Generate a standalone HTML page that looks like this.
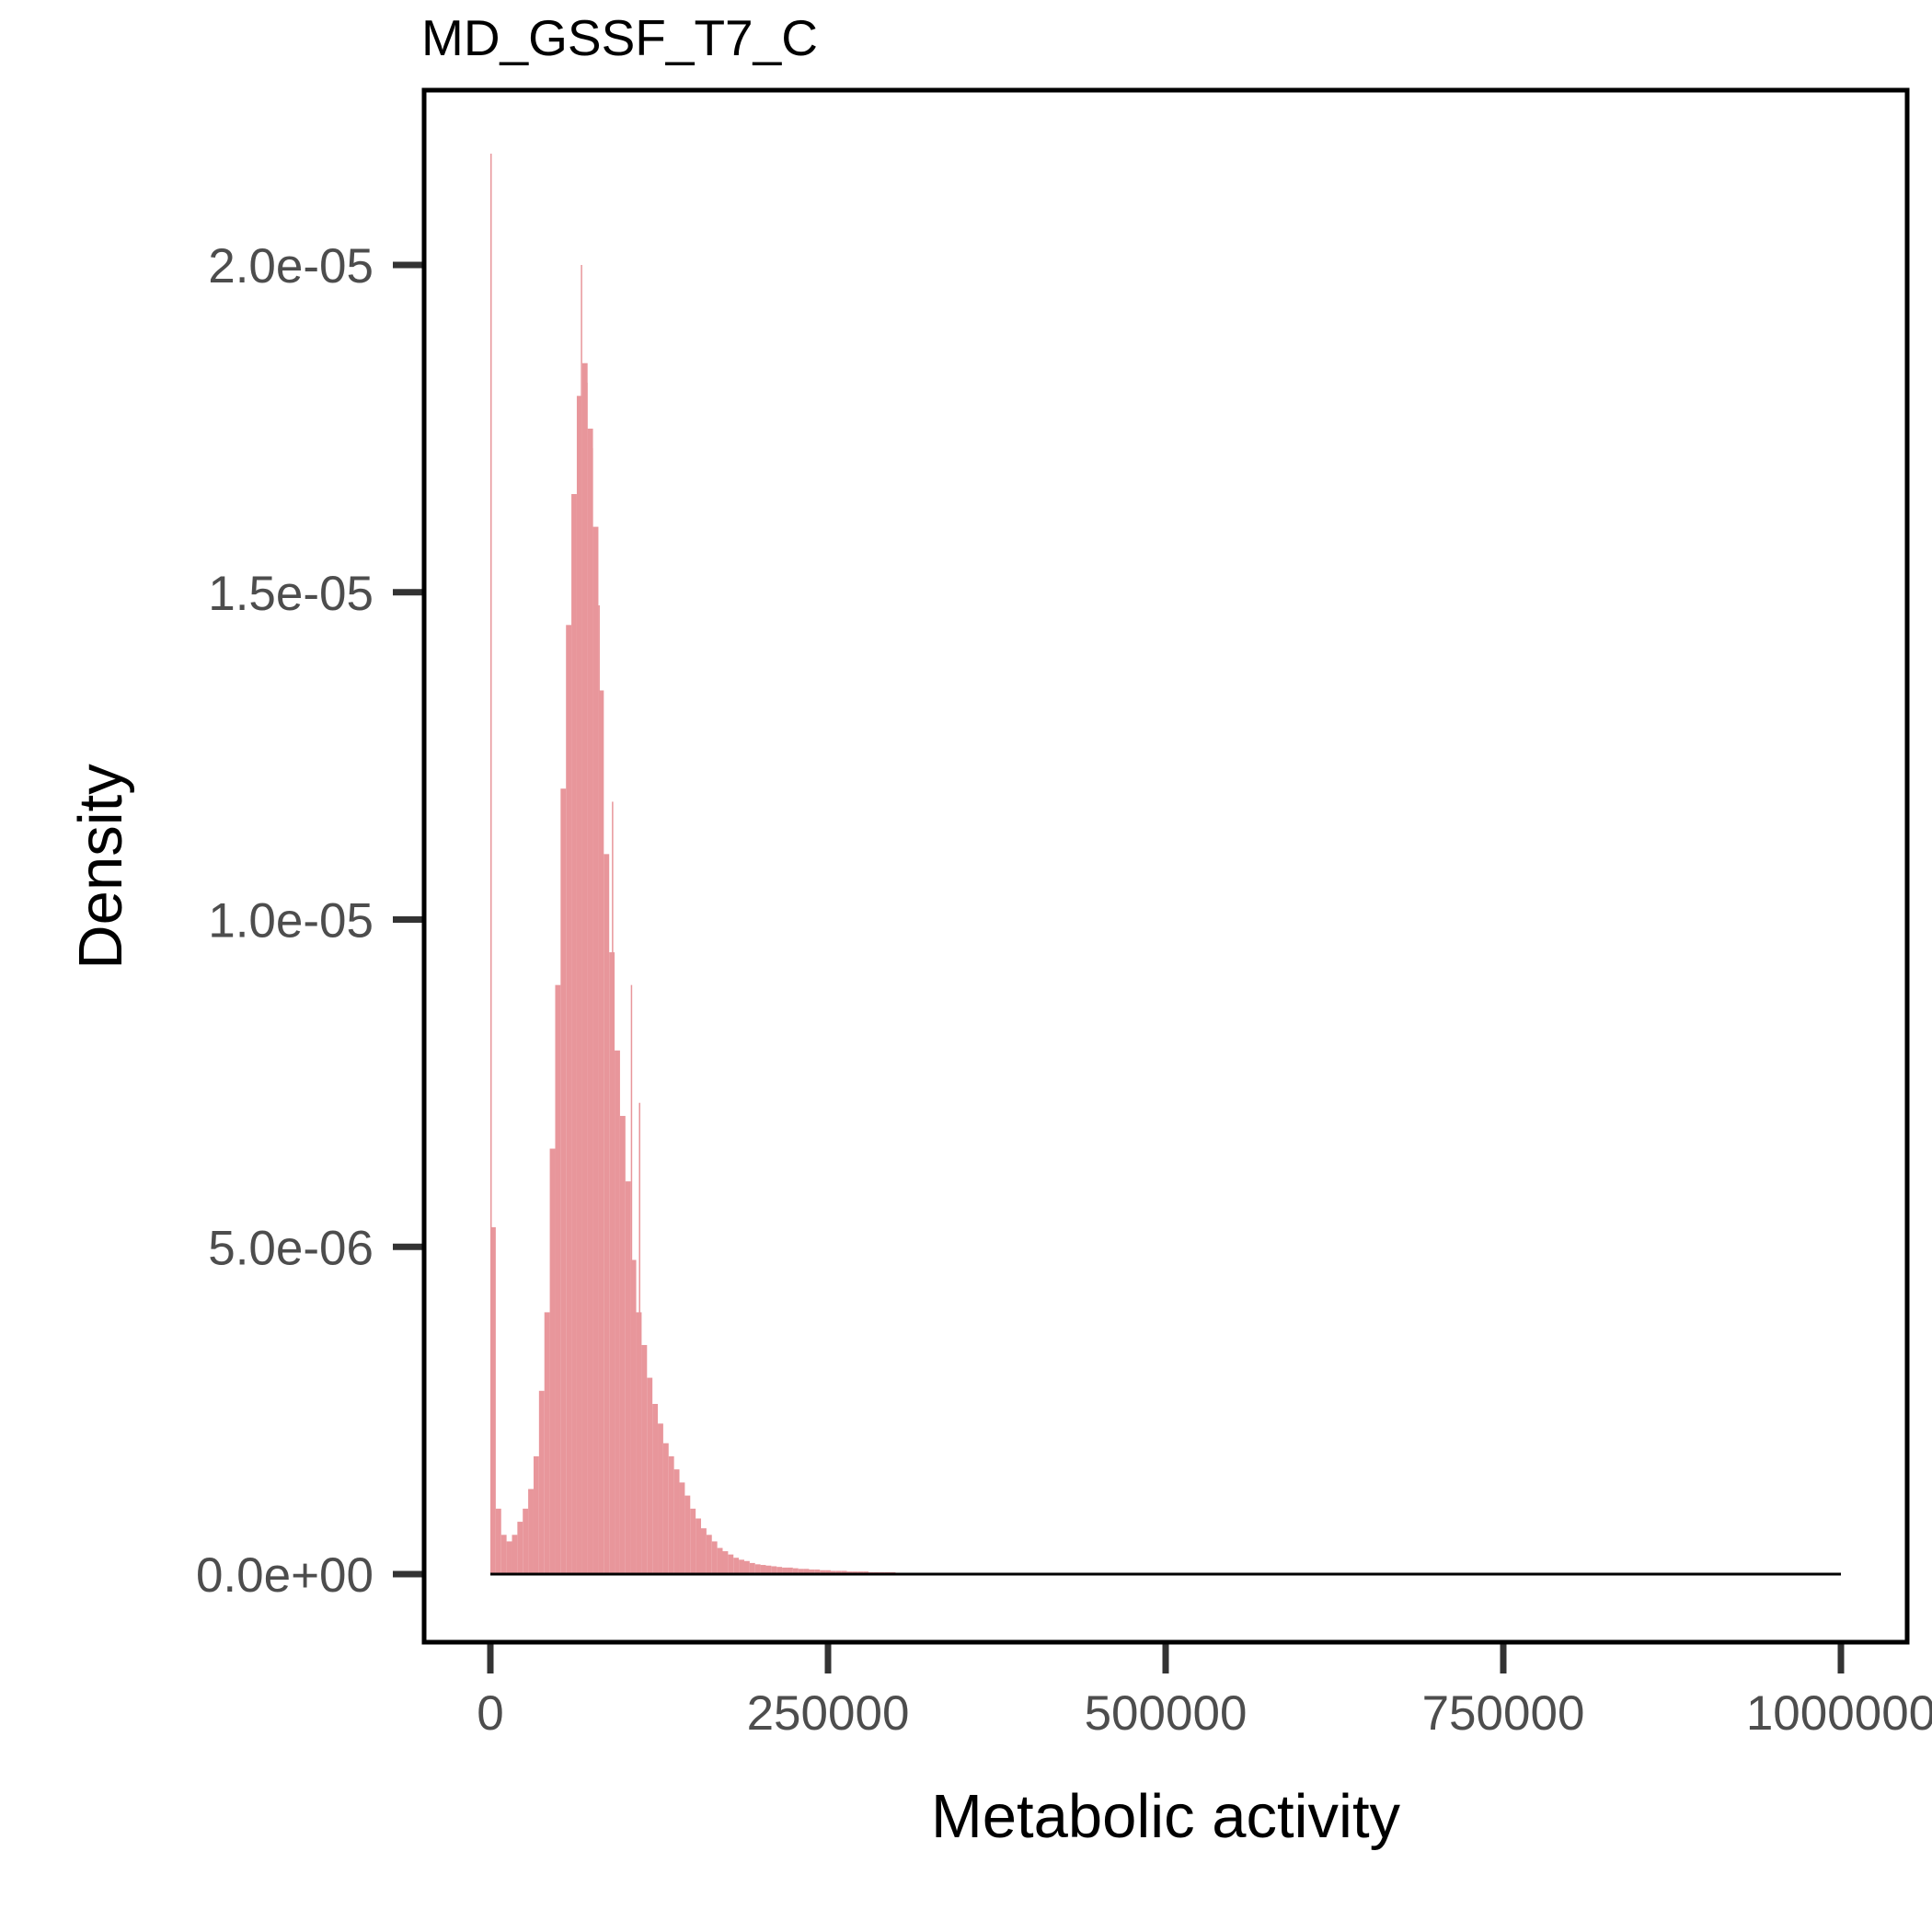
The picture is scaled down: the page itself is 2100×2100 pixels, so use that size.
<!DOCTYPE html>
<html><head><meta charset="utf-8">
<style>
html,body{margin:0;padding:0;background:#fff;}
svg{display:block;font-family:"Liberation Sans",Arial,sans-serif;}
</style></head>
<body>
<svg id="chart" width="2100" height="2100" viewBox="0 0 2100 2100">
<text x="458" y="60" font-size="55" fill="#000">MD_GSSF_T7_C</text>
<g id="bars"></g>
<g id="axes"></g>
<rect x="461" y="98" width="1612" height="1687" fill="none" stroke="#000" stroke-width="5"/>
<text x="1267" y="1997" font-size="67" text-anchor="middle" fill="#000">Metabolic activity</text>
<text transform="translate(132,942) rotate(-90)" font-size="67" text-anchor="middle" fill="#000">Density</text>
</svg>
<script>
const binWidth = 4000;
const binDensity = [5.3,1.0,0.6,0.5,0.6,0.8,1.0,1.3,1.8,2.8,4.0,6.5,9.0,12.0,14.5,16.5,18.0,18.5,17.5,16.0,13.5,11.0,9.5,8.0,7.0,6.0,4.8,4.0,3.5,3.0,2.6,2.3,2.0,1.8,1.6,1.4,1.2,1.0,0.85,0.7,0.6,0.5,0.4,0.35,0.3,0.25,0.22,0.2,0.17,0.15,0.14,0.13,0.12,0.11,0.1,0.1,0.09,0.08,0.08,0.07,0.07,0.06,0.06,0.05,0.05,0.05,0.04,0.04,0.04,0.04,0.03,0.03,0.03,0.03,0.03,0.02,0.02,0.02,0.02,0.02,0.02,0.02,0.02,0.02,0.02,0.02];
const spikeX = [0, 67000, 71000, 75000, 80000, 90000, 104000, 110000];
const spikeDensity = [21.7, 20.0, 18.2, 17.2, 14.8, 11.8, 9.0, 7.2];
const xTicks = [0, 250000, 500000, 750000, 1000000];
const xTickLabels = ["0","250000","500000","750000","1000000"];
const yTicks = [0, 5, 10, 15, 20];
const yTickLabels = ["0.0e+00","5.0e-06","1.0e-05","1.5e-05","2.0e-05"];

const NS = "http://www.w3.org/2000/svg";
function sx(v){ return 533 + (v/1000000)*(2001-533); }
function sy(v){ return 1711 - (v/20)*(1711-288); }
function mk(tag, attrs, parent){ const e=document.createElementNS(NS,tag); for(const k in attrs) e.setAttribute(k,attrs[k]); parent.appendChild(e); return e; }

const bars = document.getElementById('bars');
binDensity.forEach((d,i)=>{
  const x0=sx(i*binWidth), x1=sx((i+1)*binWidth);
  const r=mk('rect',{x:x0,y:sy(d),width:Math.max(x1-x0,0.5),height:sy(0)-sy(d),fill:'#e8969b'},bars);
  
  
});
spikeX.forEach((xv,i)=>{
  const r=mk('rect',{x:sx(xv),y:sy(spikeDensity[i]),width:1.5,height:sy(0)-sy(spikeDensity[i]),fill:'#e8969b'},bars);
  
  
});
const zl=mk('line',{x1:sx(0),x2:sx(1000000),y1:sy(0),y2:sy(0),stroke:'#000','stroke-width':3},bars);



const axes=document.getElementById('axes');
xTicks.forEach((v,i)=>{
  const t=mk('line',{x1:sx(v),x2:sx(v),y1:1785,y2:1819,stroke:'#333','stroke-width':7},axes);
  
  
  const l=mk('text',{x:sx(v),y:1880,'font-size':53,'text-anchor':'middle',fill:'#4d4d4d'},axes);
  l.textContent=xTickLabels[i];
  
  
});
yTicks.forEach((v,i)=>{
  const t=mk('line',{x1:427,x2:461,y1:sy(v),y2:sy(v),stroke:'#333','stroke-width':7},axes);
  
  
  const l=mk('text',{x:406,y:sy(v)+19,'font-size':53,'text-anchor':'end',fill:'#4d4d4d'},axes);
  l.textContent=yTickLabels[i];
  
  
});
</script>
</body></html>
